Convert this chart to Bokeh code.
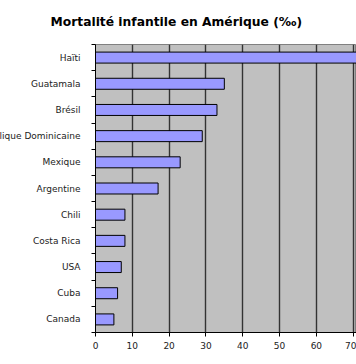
from bokeh.plotting import figure
from bokeh.models import (ColumnDataSource, Range1d, FixedTicker, LinearAxis, Title)
from bokeh.embed import file_html
from bokeh.resources import INLINE

countries = ["Haïti", "Guatamala", "Brésil", "République Dominicaine", "Mexique",
             "Argentine", "Chili", "Costa Rica", "USA", "Cuba", "Canada"]
values = [80, 35, 33, 29, 23, 17, 8, 8, 7, 6, 5]
x_ticks = [0, 10, 20, 30, 40, 50, 60, 70]
title_text = "Mortalité infantile en Amérique (‰)"

n = len(countries)
# category slot: top of chart is first country
ypos = [n - i - 0.5 for i in range(n)]
src = ColumnDataSource(dict(country=countries, value=values, y=ypos))

SHIFT = 45
p = figure(width=356 + SHIFT, height=364, output_backend="svg", toolbar_location=None,
           y_range=Range1d(0, n), x_range=Range1d(0, 70.9),
           min_border_left=95 + SHIFT, min_border_right=0, min_border_top=44,
           min_border_bottom=32, styles={"margin-left": f"-{SHIFT}px"})
p.background_fill_color = "#C0C0C0"
p.border_fill_color = "white"
p.outline_line_color = "#808080"

p.hbar(y="y", right="value", left=0, height=0.42, source=src,
       fill_color="#9999FF", line_color="black", line_width=1)

# x axis
p.xaxis.ticker = FixedTicker(ticks=x_ticks)
p.xaxis.axis_line_color = "black"
p.xaxis.major_tick_line_color = "black"
p.xaxis.major_tick_out = 4
p.xaxis.major_tick_in = 0
p.xaxis.minor_tick_line_color = None
p.xaxis.major_label_text_font = "DejaVu Sans"
p.xaxis.major_label_text_font_size = "9px"
p.xaxis.major_label_text_color = "#222222"
p.xaxis.major_label_standoff = 5

p.xgrid.ticker = FixedTicker(ticks=x_ticks)
p.xgrid.grid_line_color = "#333333"
p.xgrid.grid_line_width = 1.4
p.ygrid.grid_line_color = None

# inner y axis: tick marks at category boundaries
p.yaxis.ticker = FixedTicker(ticks=list(range(n + 1)))
p.yaxis.axis_line_color = "black"
p.yaxis.major_tick_line_color = "black"
p.yaxis.major_tick_out = 4
p.yaxis.major_tick_in = 0
p.yaxis.minor_tick_line_color = None
p.yaxis.major_label_text_font_size = "0px"
p.yaxis.major_label_standoff = 0

# outer y axis: category names at slot centres
lab_ax = LinearAxis(ticker=FixedTicker(ticks=ypos),
                    major_label_overrides={y: c for y, c in zip(ypos, countries)})
lab_ax.axis_line_color = None
lab_ax.major_tick_line_color = None
lab_ax.minor_tick_line_color = None
lab_ax.major_label_text_font = "DejaVu Sans"
lab_ax.major_label_text_font_size = "9px"
lab_ax.major_label_text_color = "#222222"
lab_ax.major_label_standoff = 5
p.add_layout(lab_ax, "left")

p.title = Title(text=title_text, align="left", vertical_align="top", offset=-45,
                standoff=28, text_font="DejaVu Sans", text_font_style="bold",
                text_font_size="12.3px", text_color="black")

open("out.html", "w").write(file_html(p, INLINE))
